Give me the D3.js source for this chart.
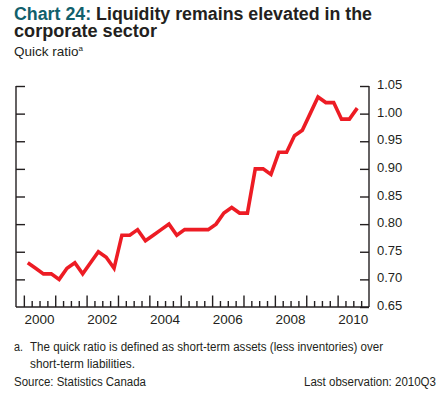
<!DOCTYPE html>
<html>
<head>
<meta charset="utf-8">
<script src="https://cdn.jsdelivr.net/npm/d3@7"></script>
<style>
  html, body { margin: 0; padding: 0; background: #fff; }
  svg { display: block; }
  text { font-family: "Liberation Sans", Arial, Helvetica, sans-serif; }
</style>
</head>
<body>
<script>
// ---- Data ----
const quarters = [
  "2000Q1","2000Q2","2000Q3","2000Q4",
  "2001Q1","2001Q2","2001Q3","2001Q4",
  "2002Q1","2002Q2","2002Q3","2002Q4",
  "2003Q1","2003Q2","2003Q3","2003Q4",
  "2004Q1","2004Q2","2004Q3","2004Q4",
  "2005Q1","2005Q2","2005Q3","2005Q4",
  "2006Q1","2006Q2","2006Q3","2006Q4",
  "2007Q1","2007Q2","2007Q3","2007Q4",
  "2008Q1","2008Q2","2008Q3","2008Q4",
  "2009Q1","2009Q2","2009Q3","2009Q4",
  "2010Q1","2010Q2","2010Q3"
];
const quickRatio = [
  0.73, 0.72, 0.71, 0.71,
  0.70, 0.72, 0.73, 0.71,
  0.73, 0.75, 0.74, 0.72,
  0.78, 0.78, 0.79, 0.77,
  0.78, 0.79, 0.80, 0.78,
  0.79, 0.79, 0.79, 0.79,
  0.80, 0.82, 0.83, 0.82,
  0.82, 0.90, 0.90, 0.89,
  0.93, 0.93, 0.96, 0.97,
  1.00, 1.03, 1.02, 1.02,
  0.99, 0.99, 1.01
];
const yTicks = [0.65, 0.70, 0.75, 0.80, 0.85, 0.90, 0.95, 1.00, 1.05];
const xLabelYears = [2000, 2002, 2004, 2006, 2008, 2010];

const W = 445, H = 399;
const svg = d3.select("body").append("svg").attr("width", W).attr("height", H);

const x = d3.scaleLinear().domain([1999.75, 2011.0]).range([16, 369]);
const y = d3.scaleLinear().domain([0.65, 1.05]).range([307, 86]);

const ink = "#231f20";

// Title
const title = svg.append("text").attr("x", 14).attr("y", 19.5)
  .attr("font-size", 17.5).attr("font-weight", "bold").attr("fill", ink)
  .attr("textLength", 358).attr("lengthAdjust", "spacingAndGlyphs");
title.append("tspan").attr("fill", "#11606c").text("Chart 24:");
title.append("tspan").text(" Liquidity remains elevated in the");
svg.append("text").attr("x", 14).attr("y", 36.5)
  .attr("font-size", 17.5).attr("font-weight", "bold").attr("fill", ink)
  .attr("textLength", 143).attr("lengthAdjust", "spacingAndGlyphs")
  .text("corporate sector");
const sub = svg.append("text").attr("x", 14).attr("y", 56)
  .attr("font-size", 13.5).attr("fill", ink);
sub.append("tspan").text("Quick ratio");
sub.append("tspan").attr("font-size", 8).attr("dy", -5).text("a");

// Axes frame
const g = svg.append("g");
g.append("line").attr("x1", 16).attr("x2", 16).attr("y1", y(1.05)).attr("y2", y(0.65))
  .attr("stroke", ink).attr("stroke-width", 1.4);
g.append("line").attr("x1", 369).attr("x2", 369).attr("y1", y(1.05)).attr("y2", y(0.65))
  .attr("stroke", ink).attr("stroke-width", 1.4);

const leftAxis = d3.axisRight(y).tickValues(yTicks.filter(v => v > 0.65)).tickSize(9).tickFormat("");
g.append("g").attr("transform", "translate(16,0)").call(leftAxis)
  .call(s => s.select(".domain").remove())
  .call(s => s.selectAll("line").attr("stroke", ink).attr("stroke-width", 1.4));
const rightAxis = d3.axisLeft(y).tickValues(yTicks).tickSize(9).tickFormat("");
g.append("g").attr("transform", "translate(369,0)").call(rightAxis)
  .call(s => s.select(".domain").remove())
  .call(s => s.selectAll("line").attr("stroke", ink).attr("stroke-width", 1.4));
g.selectAll("text.ylab").data(yTicks).join("text").attr("class", "ylab")
  .attr("x", 377).attr("y", d => y(d) + 3)
  .attr("font-size", 13).attr("fill", ink)
  .text(d => d3.format(".2f")(d));

// bottom axis
g.append("line").attr("x1", 16).attr("x2", 369).attr("y1", 307).attr("y2", 307)
  .attr("stroke", ink).attr("stroke-width", 1.4);
const minorQ = d3.range(0, 46).map(i => 1999.75 + i * 0.25).filter(v => v > 1999.8 && v < 2010.99);
const majors = minorQ.filter(v => Math.abs(v - Math.round(v)) < 1e-9);
const minors = minorQ.filter(v => Math.abs(v - Math.round(v)) >= 1e-9);
g.append("g").attr("transform", "translate(0,307)")
  .call(d3.axisTop(x).tickValues(majors).tickSize(11.5).tickFormat(""))
  .call(s => s.select(".domain").remove())
  .call(s => s.selectAll("line").attr("stroke", ink).attr("stroke-width", 1.4));
g.append("g").attr("transform", "translate(0,307)")
  .call(d3.axisTop(x).tickValues(minors).tickSize(6).tickFormat(""))
  .call(s => s.select(".domain").remove())
  .call(s => s.selectAll("line").attr("stroke", ink).attr("stroke-width", 1.4));
g.selectAll("text.xlab").data(xLabelYears).join("text").attr("class", "xlab")
  .attr("x", d => x(d + 0.5)).attr("y", 324)
  .attr("text-anchor", "middle").attr("font-size", 13.5).attr("fill", ink)
  .text(d => d);

// line
const qx = q => +q.slice(0, 4) + (+q.slice(5) - 1) * 0.25 + 0.125;
const line = d3.line().x((d, i) => x(qx(quarters[i]))).y(d => y(d));
svg.append("path").datum(quickRatio).attr("d", line)
  .attr("fill", "none").attr("stroke", "#ed1c24").attr("stroke-width", 3.6)
  .attr("stroke-linejoin", "miter").attr("stroke-linecap", "butt");

// footnotes
const narrow = '"Liberation Sans Narrow", "Arial Narrow", "Liberation Sans", Arial, sans-serif';
function fn(txt, xp, yp, len, anchor) {
  svg.append("text").attr("x", xp).attr("y", yp).attr("font-size", 12.5)
    .attr("fill", ink).attr("font-family", narrow)
    .attr("text-anchor", anchor || "start")
    .attr("textLength", len).attr("lengthAdjust", "spacingAndGlyphs")
    .text(txt);
}
fn("a.", 14, 351, 9);
fn("The quick ratio is defined as short-term assets (less inventories) over", 30, 351, 353);
fn("short-term liabilities.", 30, 367.5, 105);
fn("Source: Statistics Canada", 14, 385.5, 132);
fn("Last observation: 2010Q3", 436, 385.5, 132, "end");
</script>
</body>
</html>
